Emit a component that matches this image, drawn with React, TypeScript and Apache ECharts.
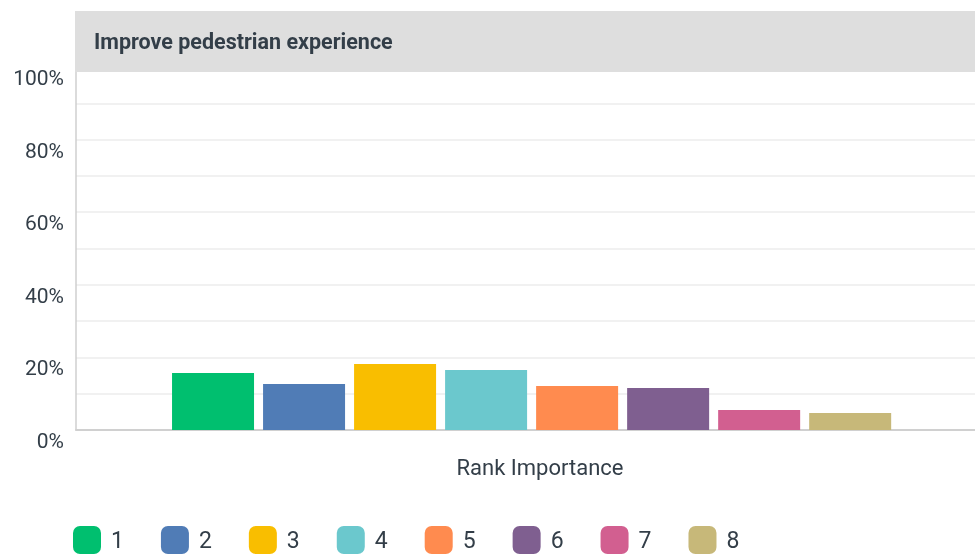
import React, { useEffect, useRef } from "react";
import * as echarts from "echarts";

const chartTitle = "Improve pedestrian experience";
const categories = ["Rank Importance"];
const seriesNames = ["1", "2", "3", "4", "5", "6", "7", "8"];
const seriesValues = [15.7, 12.7, 18.2, 16.5, 12.1, 11.6, 5.5, 4.7];
const seriesColors = ["#00BF6F", "#507CB6", "#F9BE00", "#6BC8CD", "#FF8B4F", "#7F5F90", "#D25F90", "#C7B879"];
const yTicks = [0, 20, 40, 60, 80, 100];

const textColor = "#333e48";
const font = "Roboto, 'Noto Sans', sans-serif";

export default function App() {
  const ref = useRef<HTMLDivElement>(null);
  useEffect(() => {
    if (!ref.current) return;
    const chart = echarts.init(ref.current, undefined, { renderer: "svg" });
    const spacer = {
      name: "__spacer",
      type: "bar",
      data: [0],
      barWidth: 11,
      barGap: "11%",
      silent: true,
      itemStyle: { color: "rgba(0,0,0,0)" },
    };
    chart.setOption({
      animation: false,
      textStyle: { fontFamily: font },
      grid: { left: 76, right: 0, top: 67, bottom: 125, containLabel: false },
      graphic: [
        { type: "rect", z: 100, shape: { x: 75, y: 11, width: 900, height: 61 }, style: { fill: "#dedede" } },
        {
          type: "text",
          z: 101,
          x: 94,
          y: 41,
          style: { text: chartTitle, fill: textColor, font: `bold 21.5px ${font}`, verticalAlign: "middle" },
        },
      ],
      legend: {
        left: 73,
        top: 526,
        padding: 0,
        itemWidth: 28,
        itemHeight: 28,
        itemGap: 37,
        icon: "roundRect",
        textStyle: { fontSize: 23, color: textColor, fontFamily: font, padding: [0, 0, 0, 5] },
        data: seriesNames,
      },
      xAxis: {
        type: "category",
        data: categories,
        axisTick: { show: false },
        axisLine: { lineStyle: { color: "#d0d0d0", width: 2 } },
        axisLabel: { fontSize: 22, color: textColor, margin: 26, padding: [0, 0, 0, 29] },
      },
      yAxis: {
        type: "value",
        min: 0,
        max: 100,
        interval: 10,
        axisLine: { show: true, lineStyle: { color: "#cfcfcf", width: 1.5 } },
        axisTick: { show: false },
        splitLine: { lineStyle: { color: "#ececec", width: 1.5 } },
        axisLabel: {
          fontSize: 21,
          color: textColor,
          margin: 12,
          verticalAlign: "top",
          lineHeight: 22,
          formatter: (v: number) => (yTicks.includes(v) ? v + "%" : ""),
        },
      },
      series: [
        spacer,
        ...seriesNames.map((n, i) => ({
          name: n,
          type: "bar",
          data: [seriesValues[i]],
          itemStyle: { color: seriesColors[i] },
          barWidth: 82,
          barGap: "11%",
        })),
      ],
    });
    return () => chart.dispose();
  }, []);
  return <div ref={ref} style={{ position: "fixed", left: 0, top: 0, width: 975, height: 555 }} />;
}
